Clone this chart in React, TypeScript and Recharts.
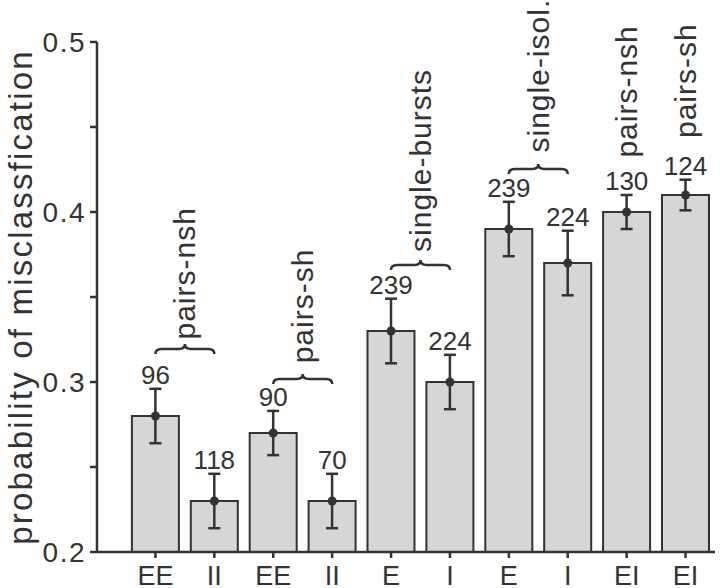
import React from 'react';
import { ComposedChart, Bar, ErrorBar, Scatter, XAxis, YAxis } from 'recharts';

const categories = ['EE', 'II', 'EE', 'II', 'E', 'I', 'E', 'I', 'EI', 'EI'];
const probabilities = [0.28, 0.23, 0.27, 0.23, 0.33, 0.3, 0.39, 0.37, 0.4, 0.41];
const errors = [0.016, 0.016, 0.013, 0.016, 0.019, 0.016, 0.016, 0.019, 0.01, 0.009];
const counts = [96, 118, 90, 70, 239, 224, 239, 224, 130, 124];

// group annotations (rotated text, optional brace over a pair of bars)
const groupLabels = ['pairs-nsh', 'pairs-sh', 'single-bursts', 'single-isol.', 'pairs-nsh', 'pairs-sh'];
const groupStart = [0, 2, 4, 6, 8, 9];
const groupSpan = [2, 2, 2, 2, 1, 1];
const groupTextLevel = [0.325, 0.311, 0.3765, 0.435, 0.432, 0.4435];
const groupBraceLevel: (number | null)[] = [0.3194, 0.3018, 0.3688, 0.4253, null, null];

const yTicks = [0.2, 0.25, 0.3, 0.35, 0.4, 0.45, 0.5];

const W = 720;
const H = 588;
const MARGIN = { top: 42, right: 5, bottom: 0, left: 0 };
const Y_W = 97;
const PAD = { left: 29, right: 0 };
const STEP = (W - MARGIN.left - MARGIN.right - Y_W - PAD.left - PAD.right) / categories.length;

const INK = '#333';
const FONT = '"Liberation Sans", Arial, Helvetica, sans-serif';

const data = categories.map((cat, i) => {
  const g = groupStart.indexOf(i);
  return {
    id: 'b' + i,
    cat,
    value: probabilities[i],
    err: errors[i],
    errTop: probabilities[i] + errors[i],
    n: counts[i],
    label: g >= 0 ? groupLabels[g] : null,
    span: g >= 0 ? groupSpan[g] : 0,
    textLevel: g >= 0 ? groupTextLevel[g] : null,
    braceLevel: g >= 0 ? groupBraceLevel[g] : null,
  };
});

const bad = (v: any) => v == null || Number.isNaN(v);

const Dot = (props: any) => {
  const { cx, cy } = props;
  if (bad(cy)) return <g />;
  return <circle cx={cx} cy={cy} r={4.5} fill={INK} />;
};

const CountLabel = (props: any) => {
  const { cx, cy, payload } = props;
  if (bad(cy)) return <g />;
  return (
    <text x={cx} y={cy - 5} textAnchor="middle" fontSize={26} fill={INK} fontFamily={FONT}>
      {payload.n}
    </text>
  );
};

const Brace = (props: any) => {
  const { cx, cy, payload } = props;
  if (bad(cy) || payload.span < 2) return <g />;
  const x0 = cx;
  const x1 = cx + STEP * (payload.span - 1);
  const m = (x0 + x1) / 2;
  const d = `M${x0},${cy + 5} Q${x0},${cy} ${x0 + 6},${cy} L${m - 6},${cy} Q${m},${cy} ${m},${cy - 5} Q${m},${cy} ${m + 6},${cy} L${x1 - 6},${cy} Q${x1},${cy} ${x1},${cy + 5}`;
  return <path d={d} fill="none" stroke={INK} strokeWidth={2.5} />;
};

const GroupText = (props: any) => {
  const { cx, cy, payload } = props;
  if (bad(cy) || !payload.label) return <g />;
  const x = cx + (STEP * (payload.span - 1)) / 2;
  return (
    <text
      x={x}
      y={cy}
      transform={`rotate(-90 ${x} ${cy})`}
      textAnchor="start"
      dominantBaseline="central"
      fontSize={30}
      letterSpacing={1}
      fill={INK}
      fontFamily={FONT}
    >
      {payload.label}
    </text>
  );
};

const YLabel = (props: any) => {
  const vb = props.viewBox || { x: 0, y: MARGIN.top, width: Y_W, height: 510 };
  const x = vb.x + 20;
  const y = vb.y + vb.height / 2;
  return (
    <text
      x={x}
      y={y}
      transform={`rotate(-90 ${x} ${y})`}
      textAnchor="middle"
      dominantBaseline="central"
      fontSize={33}
      letterSpacing={2.2}
      fill={INK}
      fontFamily={FONT}
    >
      probability of misclassfication
    </text>
  );
};

export default function App() {
  return (
    <div style={{ position: 'absolute', left: 0, top: 0, background: '#fff' }}>
      <ComposedChart width={W} height={H} data={data} margin={MARGIN} barCategoryGap="10%">
        <XAxis
          dataKey="id"
          allowDuplicatedCategory={false}
          padding={PAD}
          height={36}
          tickSize={6}
          tickMargin={8}
          axisLine={{ stroke: INK, strokeWidth: 2.5 }}
          tickLine={{ stroke: INK, strokeWidth: 2.5 }}
          tick={{ fill: INK, fontSize: 27, fontFamily: FONT }}
          tickFormatter={(v: string) => categories[Number(v.slice(1))]}
        />
        <YAxis
          width={Y_W}
          domain={[0.2, 0.5]}
          ticks={yTicks}
          tickSize={7}
          tickMargin={4}
          axisLine={{ stroke: INK, strokeWidth: 2.5 }}
          tickLine={{ stroke: INK, strokeWidth: 2.5 }}
          tick={{ fill: INK, fontSize: 28, fontFamily: FONT, letterSpacing: 1.5 }}
          tickFormatter={(v: number) => (Math.round(v * 100) % 10 === 0 ? v.toFixed(1) : '')}
          label={{ content: YLabel }}
        />
        <Bar dataKey="value" fill="#d6d6d6" stroke={INK} strokeWidth={2} isAnimationActive={false}>
          <ErrorBar dataKey="err" width={6} stroke={INK} strokeWidth={2.5} isAnimationActive={false} />
        </Bar>
        <Scatter dataKey="value" shape={Dot} isAnimationActive={false} />
        <Scatter dataKey="errTop" shape={CountLabel} isAnimationActive={false} />
        <Scatter dataKey="braceLevel" shape={Brace} isAnimationActive={false} />
        <Scatter dataKey="textLevel" shape={GroupText} isAnimationActive={false} />
      </ComposedChart>
    </div>
  );
}
